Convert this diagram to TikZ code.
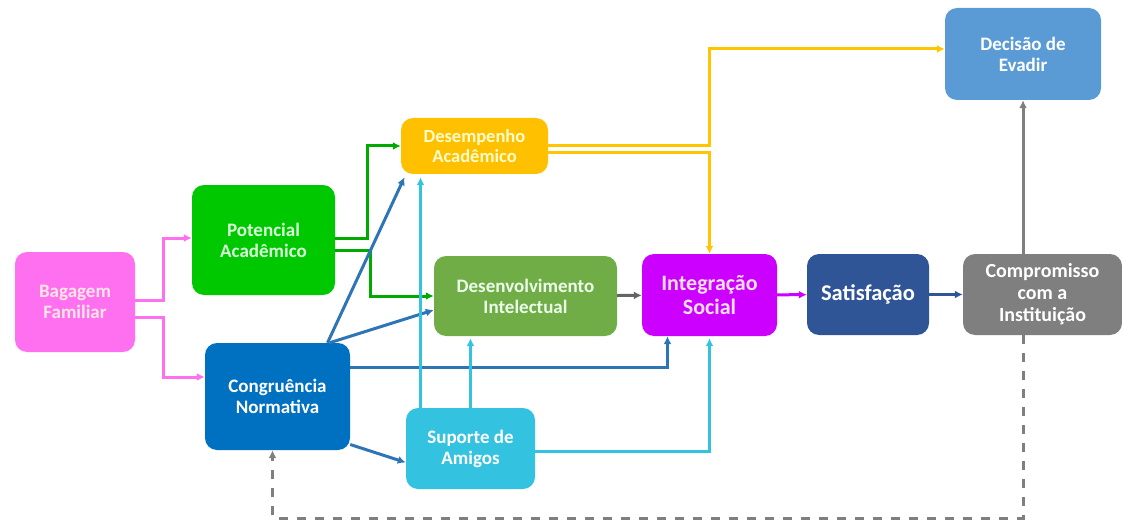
\documentclass[tikz,border=0pt]{standalone}
\usepackage{fontspec}
\setmainfont{Carlito}
\usepackage{xcolor}
\usetikzlibrary{positioning,shapes,arrows.meta}

\definecolor{cpink}{HTML}{FF70F0}
\definecolor{cgreen}{HTML}{00C800}
\definecolor{camber}{HTML}{FFC000}
\definecolor{colive}{HTML}{70AD47}
\definecolor{cviolet}{HTML}{CC00FF}
\definecolor{cnavy}{HTML}{2F5597}
\definecolor{cgrey}{HTML}{7F7F7F}
\definecolor{csky}{HTML}{5B9BD5}
\definecolor{cblue}{HTML}{0070C0}
\definecolor{ccyan}{HTML}{33C3E0}
\definecolor{lblue}{HTML}{2E75B6}

\begin{document}
\begin{tikzpicture}[x=1pt,y=-1pt]
\tikzstyle{every node}+=[inner sep=0pt]
\tikzstyle{box}=[rectangle, rounded corners=12pt, align=center, font=\bfseries\fontsize{19}{21}\selectfont]
\tikzstyle{link}=[line width=3pt, -{Latex[length=8pt,width=8pt]}]
\useasboundingbox (0,0) rectangle (1122,524);
% caixas
\node [box, fill=cpink, text=pink!40, minimum width=120pt, minimum height=100pt] (bagagem) at (75,302) {Bagagem\\Familiar};
\node [box, fill=cgreen, text=green!15, minimum width=143pt, minimum height=110pt] (potencial) at (263.5,240) {Potencial\\Acadêmico};
\node [box, fill=camber, text=yellow!20, minimum width=147pt, minimum height=56pt, font=\bfseries\fontsize{18.5}{20}\selectfont] (desempenho) at (474.5,146) {Desempenho\\Acadêmico};
\node [box, fill=colive, text=green!8, minimum width=183pt, minimum height=80pt] (desenvolvimento) at (525.5,296) {Desenvolvimento\\Intelectual};
\node [box, fill=cviolet, text=magenta!12, minimum width=135pt, minimum height=82pt, font=\bfseries\fontsize{22}{24}\selectfont] (integracao) at (709.5,295) {Integração\\Social};
\node [box, fill=cnavy, text=white, minimum width=122pt, minimum height=81pt, font=\bfseries\fontsize{22.5}{24}\selectfont] (satisfacao) at (868,294.5) {Satisfação};
\node [box, fill=cgrey, text=white, minimum width=159pt, minimum height=81pt, font=\bfseries\fontsize{20}{22}\selectfont] (compromisso) at (1042.5,294.5) {Compromisso\\com a\\Instituição};
\node [box, fill=csky, text=white, minimum width=156pt, minimum height=92pt] (decisao) at (1023,54) {Decisão de\\Evadir};
\node [box, fill=cblue, text=white, minimum width=145pt, minimum height=107pt] (congruencia) at (277.5,396.5) {Congruência\\Normativa};
\node [box, fill=ccyan, text=white, minimum width=129pt, minimum height=81pt] (suporte) at (470.5,448.5) {Suporte de\\Amigos};
\coordinate (canto) at (1023,518);
% ligacoes
\draw [link, cpink] ([yshift=2pt]bagagem.east) -- ++(28,0) |- ([yshift=2pt]potencial.west);
\draw [link, cpink] ([yshift=-15pt]bagagem.east) -- ++(28,0) |- ([yshift=19.5pt]congruencia.west);
\draw [link, cgreen!85!black] ([yshift=2pt]potencial.east) -- ++(32,0) |- (desempenho.west);
\draw [link, cgreen!85!black] ([yshift=-10pt]potencial.east) -- ++(35,0) |- (desenvolvimento.west);
\draw [link, lblue] ([xshift=50pt]congruencia.north) -- ([xshift=-70pt,yshift=-3pt]desempenho.south);
\draw [link, lblue] ([xshift=52pt]congruencia.north) -- ([yshift=-14pt]desenvolvimento.west);
\draw [link, lblue] ([yshift=29pt]congruencia.east) -| ([xshift=-42pt]integracao.south);
\draw [link, lblue] ([yshift=-48pt]congruencia.east) -- ([yshift=-14pt]suporte.west);
\draw [link, ccyan] ([xshift=-50pt]suporte.north) -- ([xshift=-50pt,yshift=-3pt]suporte.north |- desempenho.south);
\draw [link, ccyan] (suporte.north) -- ([yshift=-2pt]suporte.north |- desenvolvimento.south);
\draw [link, ccyan] ([yshift=-3pt]suporte.east) -| ([yshift=-2pt]integracao.south);
\draw [link, camber!90!yellow] (desempenho.east) -| ++(161,-97) -- ([yshift=5pt]decisao.west);
\draw [link, camber!90!yellow] ([yshift=-7pt]desempenho.east) -| (integracao.north);
\draw [link, cgrey!80!black] (desenvolvimento) -- (integracao);
\draw [link, cviolet] (integracao) -- (satisfacao);
\draw [link, cnavy] (satisfacao) -- (compromisso);
\draw [link, cgrey] (compromisso.north -| decisao.south) -- (decisao.south);
\draw [link, cgrey, dashed, dash pattern=on 9pt off 9pt] (compromisso.south -| canto) -- (canto) -| ([xshift=-5pt]congruencia.south);
\end{tikzpicture}
\end{document}
